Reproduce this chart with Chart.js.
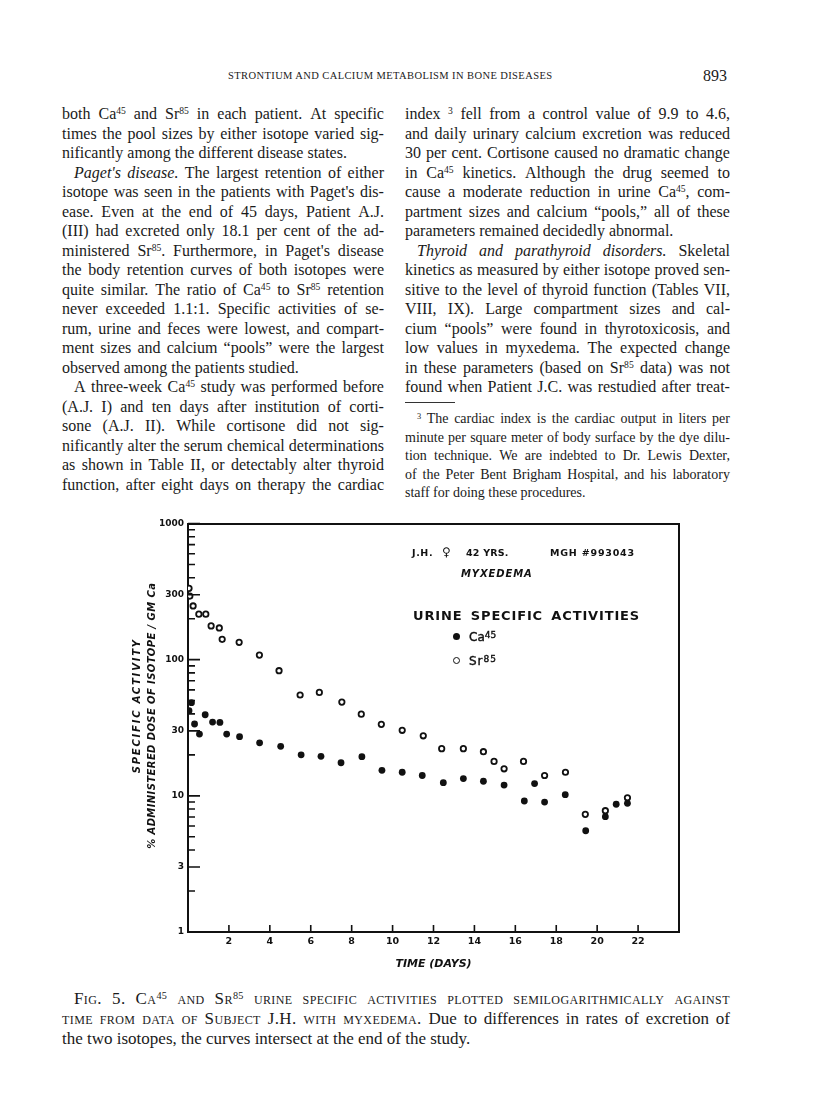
<!DOCTYPE html>
<html>
<head>
<meta charset="utf-8">
<script src="https://cdn.jsdelivr.net/npm/chart.js@4.4.0/dist/chart.umd.min.js"></script>
<style>
  html, body { margin: 0; padding: 0; background: #fff; }
  body { width: 816px; height: 1109px; position: relative; overflow: hidden; color: #1a1a1a;
         font-family: 'Liberation Serif', 'DejaVu Serif', serif; }
  .ln { position: absolute; display: flex; justify-content: space-between; white-space: nowrap;
        font-size: 16px; line-height: 1; box-sizing: border-box; }
  .ln.last { display: block; }
  .ln.ind { padding-left: 12px; }
  .fn { font-size: 14px; }
  .cap { font-size: 17px; }
  sup { font-size: 0.6em; vertical-align: 0; position: relative; top: -0.5em; line-height: 0; }
  .sc { font-variant: small-caps; letter-spacing: 0.4px; }
  #fig { position: absolute; left: 100px; top: 500px; }
  .ann { position: absolute; font-family: 'DejaVu Sans', sans-serif; font-weight: bold; line-height: 1;
         color: #111; white-space: nowrap; }
  .dot { position: absolute; width: 7px; height: 7px; border-radius: 50%; box-sizing: border-box; }
</style>
</head>
<body>
<div id="page"></div>
<canvas id="fig" width="620" height="480"></canvas>

<div class="ann" style="left:412px;top:548px;font-size:9.5px;letter-spacing:0.6px">J.H.</div>
<div class="ann" style="left:442px;top:546px;font-size:12px">&#9792;</div>
<div class="ann" style="left:466px;top:548px;font-size:9.5px;letter-spacing:0.2px">42 YRS.</div>
<div class="ann" style="left:550px;top:548px;font-size:9.5px;letter-spacing:0.8px">MGH #993043</div>
<div class="ann" style="left:461px;top:569px;font-size:10px;font-style:italic;letter-spacing:0.9px">MYXEDEMA</div>
<div class="ann" style="left:413px;top:609px;font-size:13px;letter-spacing:0.85px;word-spacing:3px">URINE SPECIFIC ACTIVITIES</div>
<div class="dot" style="left:453px;top:633px;background:#111"></div>
<div class="ann" style="left:469px;top:631px;font-size:12px;font-weight:normal;-webkit-text-stroke:0.4px #111">Ca<sup style="font-size:9px;top:-0.3em">45</sup></div>
<div class="dot" style="left:453px;top:657px;border:1.8px solid #111;background:#fff"></div>
<div class="ann" style="left:469px;top:655px;font-size:12px;font-weight:normal;-webkit-text-stroke:0.4px #111;letter-spacing:1px">Sr<sup style="font-size:9px;top:-0.3em">85</sup></div>

<script>
// ---- data ----
const caDays = [0.05, 0.17, 0.32, 0.56, 0.84, 1.2, 1.56, 1.89, 2.52, 3.5, 4.53, 5.53, 6.5, 7.48, 8.5,
  9.48, 10.47, 11.45, 12.48, 13.46, 14.44, 15.45, 16.44, 16.94, 17.43, 18.44, 19.44, 20.4, 20.93, 21.48];
const caVals = [42.2, 48.3, 33.7, 28.4, 39.4, 34.8, 34.6, 28.4, 27.2, 24.5, 23.1, 20.0, 19.5, 17.5, 19.4,
  15.4, 14.9, 14.1, 12.5, 13.4, 12.8, 12.0, 9.16, 12.3, 9.0, 10.2, 5.54, 7.03, 8.67, 8.81];

const srDays = [0.05, 0.09, 0.25, 0.53, 0.87, 1.13, 1.53, 1.67, 2.5, 3.49, 4.45, 5.48, 6.42, 7.52, 8.47,
  9.45, 10.47, 11.5, 12.4, 13.46, 14.44, 14.96, 15.45, 16.4, 17.43, 18.45, 19.42, 20.4, 21.48];
const srVals = [334, 293, 248, 216, 216, 177, 171, 141, 134, 108, 83, 55, 57.5, 48.8, 39.8,
  33.5, 30.3, 27.6, 22.2, 22.2, 21.1, 17.9, 15.8, 17.9, 14.1, 14.9, 7.31, 7.78, 9.68];

const xTickVals = [2, 4, 6, 8, 10, 12, 14, 16, 18, 20, 22];
const yTickVals = [1, 3, 10, 30, 100, 300, 1000];
const yMinorVals = [2, 4, 5, 6, 7, 8, 9, 20, 40, 50, 60, 70, 80, 90, 200, 400, 500, 600, 700, 800, 900];

const xTitle = 'TIME (DAYS)';
const yTitle1 = 'SPECIFIC ACTIVITY';
const yTitle2 = '% ADMINISTERED DOSE OF ISOTOPE / GM Ca';

// ---- page text ----
// '>' = indented first line, '|' = last line of paragraph
const leftLines = [
  'both Ca<sup>45</sup> and Sr<sup>85</sup> in each patient. At specific',
  'times the pool sizes by either isotope varied sig-',
  'nificantly among the different disease states.|',
  '><i>Paget\'s</i> <i>disease.</i> The largest retention of either',
  'isotope was seen in the patients with Paget\'s dis-',
  'ease. Even at the end of 45 days, Patient A.J.',
  '(III) had excreted only 18.1 per cent of the ad-',
  'ministered Sr<sup>85</sup>. Furthermore, in Paget\'s disease',
  'the body retention curves of both isotopes were',
  'quite similar. The ratio of Ca<sup>45</sup> to Sr<sup>85</sup> retention',
  'never exceeded 1.1:1. Specific activities of se-',
  'rum, urine and feces were lowest, and compart-',
  'ment sizes and calcium \u201Cpools\u201D were the largest',
  'observed among the patients studied.|',
  '>A three-week Ca<sup>45</sup> study was performed before',
  '(A.J. I) and ten days after institution of corti-',
  'sone (A.J. II). While cortisone did not sig-',
  'nificantly alter the serum chemical determinations',
  'as shown in Table II, or detectably alter thyroid',
  'function, after eight days on therapy the cardiac'
];
const rightLines = [
  'index <sup>3</sup> fell from a control value of 9.9 to 4.6,',
  'and daily urinary calcium excretion was reduced',
  '30 per cent. Cortisone caused no dramatic change',
  'in Ca<sup>45</sup> kinetics. Although the drug seemed to',
  'cause a moderate reduction in urine Ca<sup>45</sup>, com-',
  'partment sizes and calcium \u201Cpools,\u201D all of these',
  'parameters remained decidedly abnormal.|',
  '><i>Thyroid</i> <i>and</i> <i>parathyroid</i> <i>disorders.</i> Skeletal',
  'kinetics as measured by either isotope proved sen-',
  'sitive to the level of thyroid function (Tables VII,',
  'VIII, IX). Large compartment sizes and cal-',
  'cium \u201Cpools\u201D were found in thyrotoxicosis, and',
  'low values in myxedema. The expected change',
  'in these parameters (based on Sr<sup>85</sup> data) was not',
  'found when Patient J.C. was restudied after treat-'
];
const footLines = [
  '><sup>3</sup> The cardiac index is the cardiac output in liters per',
  'minute per square meter of body surface by the dye dilu-',
  'tion technique. We are indebted to Dr. Lewis Dexter,',
  'of the Peter Bent Brigham Hospital, and his laboratory',
  'staff for doing these procedures.|'
];
const capLines = [
  '><span class="sc">Fig.</span> <span class="sc">5.</span> <span class="sc">Ca<sup>45</sup></span> <span class="sc">and</span> <span class="sc">Sr<sup>85</sup></span> <span class="sc">urine</span> <span class="sc">specific</span> <span class="sc">activities</span> <span class="sc">plotted</span> <span class="sc">semilogarithmically</span> <span class="sc">against</span>',
  '<span class="sc">time</span> <span class="sc">from</span> <span class="sc">data</span> <span class="sc">of</span> <span class="sc">Subject</span> <span class="sc">J.H.</span> <span class="sc">with</span> <span class="sc">myxedema.</span> Due to differences in rates of excretion of',
  'the two isotopes, the curves intersect at the end of the study.|'
];

const page = document.getElementById('page');
function addLine(src, left, top, width, cls) {
  const d = document.createElement('div');
  d.className = 'ln' + (cls ? ' ' + cls : '');
  let s = src;
  if (s.startsWith('>')) { d.classList.add('ind'); s = s.slice(1); }
  if (s.endsWith('|')) {
    d.classList.add('last'); s = s.slice(0, -1);
    if (d.classList.contains('ind')) d.style.paddingLeft = '12px';
    d.innerHTML = s;
  } else {
    // split on spaces outside tags; each word a flex item
    const words = [];
    let cur = '', inTag = false;
    for (const ch of s) {
      if (ch === '<') inTag = true;
      if (ch === '>') inTag = false;
      if (ch === ' ' && !inTag) { if (cur) words.push(cur); cur = ''; } else cur += ch;
    }
    if (cur) words.push(cur);
    d.innerHTML = words.map(w => '<span>' + w + '</span>').join('');
  }
  d.style.left = left + 'px';
  d.style.top = top + 'px';
  d.style.width = width + 'px';
  page.appendChild(d);
  return d;
}

const hdr = document.createElement('div');
hdr.className = 'ln last';
hdr.style.cssText = 'left:228px;top:71px;font-size:10.5px;letter-spacing:0.4px';
hdr.textContent = 'STRONTIUM AND CALCIUM METABOLISM IN BONE DISEASES';
page.appendChild(hdr);
const pg = document.createElement('div');
pg.className = 'ln last';
pg.style.cssText = 'left:703px;top:68px;font-size:16px';
pg.textContent = '893';
page.appendChild(pg);

const lineTop = 106, pitch = 19.5;
leftLines.forEach((l, i) => addLine(l, 62, lineTop + i * pitch, 322));
rightLines.forEach((l, i) => addLine(l, 405, lineTop + i * pitch, 325));

const rule = document.createElement('div');
rule.style.cssText = 'position:absolute;left:405px;top:402px;width:50px;height:1px;background:#333';
page.appendChild(rule);
footLines.forEach((l, i) => addLine(l, 405, 412 + i * 18.5, 325, 'fn'));
capLines.forEach((l, i) => addLine(l, 62, 990 + i * 20, 668, 'cap'));

// ---- chart ----
const inwardTicks = {
  id: 'inwardTicks',
  afterDraw(chart) {
    const ctx = chart.ctx, xs = chart.scales.x, ys = chart.scales.y, area = chart.chartArea;
    ctx.save();
    ctx.strokeStyle = '#111';
    ctx.lineWidth = 1.6;
    ctx.beginPath();
    yTickVals.concat(yMinorVals).forEach(v => {
      const len = yTickVals.includes(v) ? 12 : 7;
      const py = ys.getPixelForValue(v);
      ctx.moveTo(area.left, py);
      ctx.lineTo(area.left + len, py);
    });
    xTickVals.forEach(v => {
      const px = xs.getPixelForValue(v);
      ctx.moveTo(px, area.bottom);
      ctx.lineTo(px, area.bottom - 7);
    });
    ctx.stroke();
    ctx.restore();
  }
};

const yTitles = {
  id: 'yTitles',
  afterDraw(chart) {
    const ctx = chart.ctx, area = chart.chartArea;
    const midY = (area.top + area.bottom) / 2;
    const rows = [
      [yTitle1, area.left - 51, midY - 22, '1.8px'],
      [yTitle2, area.left - 36, midY - 12, '0.4px']
    ];
    ctx.save();
    ctx.fillStyle = '#111';
    ctx.font = 'italic bold 10px "DejaVu Sans"';
    ctx.textAlign = 'center';
    ctx.textBaseline = 'middle';
    rows.forEach(([t, x, y, ls]) => {
      ctx.save();
      ctx.letterSpacing = ls;
      ctx.translate(x, y);
      ctx.rotate(-Math.PI / 2);
      ctx.fillText(t, 0, 0);
      ctx.restore();
    });
    ctx.restore();
  }
};

const tickFont = { family: 'DejaVu Sans', weight: 'bold', size: 9 };
const frame = { display: true, color: '#111', width: 2 };

new Chart(document.getElementById('fig'), {
  type: 'scatter',
  data: {
    datasets: [
      {
        label: 'Ca45',
        data: caDays.map((d, i) => ({ x: d, y: caVals[i] })),
        pointRadius: 3.4,
        pointBackgroundColor: '#111',
        pointBorderColor: '#111',
        pointBorderWidth: 0,
        xAxisID: 'x',
        yAxisID: 'y'
      },
      {
        label: 'Sr85',
        data: srDays.map((d, i) => ({ x: d, y: srVals[i] })),
        pointRadius: 2.7,
        pointBackgroundColor: '#fff',
        pointBorderColor: '#111',
        pointBorderWidth: 1.8,
        xAxisID: 'x',
        yAxisID: 'y'
      }
    ]
  },
  options: {
    responsive: false,
    animation: false,
    devicePixelRatio: 1,
    layout: { padding: { left: 0, top: 23.5, right: 41, bottom: 0 } },
    plugins: { legend: { display: false }, tooltip: { enabled: false } },
    scales: {
      x: {
        type: 'linear',
        position: 'bottom',
        min: 0,
        max: 24,
        afterBuildTicks: (s) => { s.ticks = xTickVals.map(v => ({ value: v })); },
        afterFit: (s) => { s.height = 48; },
        grid: { display: false, drawTicks: false },
        border: frame,
        ticks: { padding: 4, color: '#111', font: { ...tickFont, size: 9.5 }, autoSkip: false, maxRotation: 0 },
        title: {
          display: true,
          text: xTitle,
          color: '#111',
          font: { family: 'DejaVu Sans', weight: 'bold', style: 'italic', size: 11 },
          padding: { top: 0, bottom: 9 }
        }
      },
      y: {
        type: 'logarithmic',
        position: 'left',
        min: 1,
        max: 1000,
        afterBuildTicks: (s) => { s.ticks = yTickVals.map(v => ({ value: v })); },
        afterFit: (s) => { s.width = 88; },
        grid: { display: false, drawTicks: false },
        border: frame,
        ticks: { padding: 4, color: '#111', font: tickFont, autoSkip: false, callback: (v) => String(v) }
      },
      x2: {
        type: 'linear',
        position: 'top',
        min: 0,
        max: 24,
        afterFit: (s) => { s.height = 0; },
        grid: { display: false, drawTicks: false },
        border: frame,
        ticks: { display: false }
      },
      y2: {
        type: 'linear',
        position: 'right',
        min: 0,
        max: 1,
        afterFit: (s) => { s.width = 0; },
        grid: { display: false, drawTicks: false },
        border: frame,
        ticks: { display: false }
      }
    }
  },
  plugins: [inwardTicks, yTitles]
});
</script>
</body>
</html>
